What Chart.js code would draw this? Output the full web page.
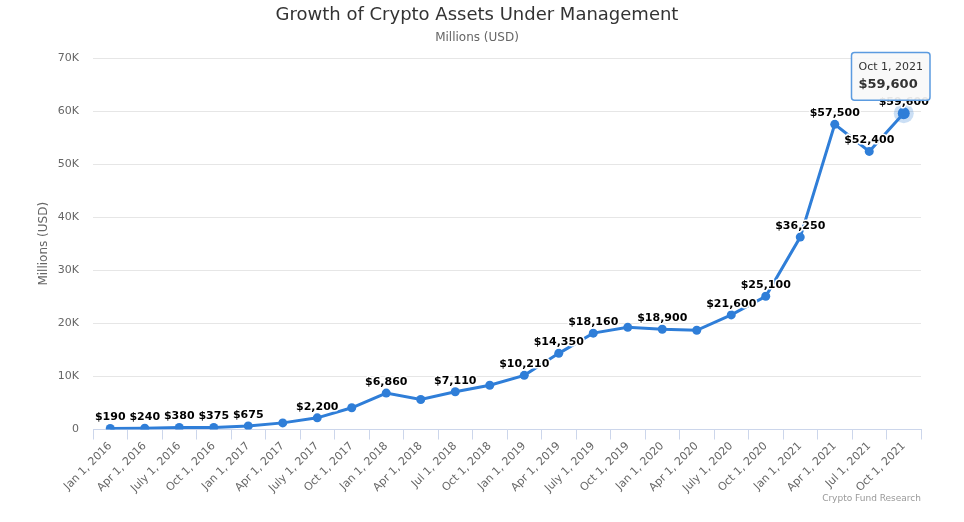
<!DOCTYPE html>
<html>
<head>
<meta charset="utf-8">
<script src="https://cdn.jsdelivr.net/npm/chart.js@4/dist/chart.umd.min.js"></script>
<style>
  html, body { margin: 0; padding: 0; background: #fff; }
  #wrap { width: 964px; height: 522px; }
</style>
</head>
<body>
<div id="wrap"><canvas id="myChart"></canvas></div>
<script>
// data
var quarters = [
  "Jan 1, 2016", "Apr 1, 2016", "July 1, 2016", "Oct 1, 2016",
  "Jan 1, 2017", "Apr 1, 2017", "July 1, 2017", "Oct 1, 2017",
  "Jan 1, 2018", "Apr 1, 2018", "Jul 1, 2018", "Oct 1, 2018",
  "Jan 1, 2019", "Apr 1, 2019", "July 1, 2019", "Oct 1, 2019",
  "Jan 1, 2020", "Apr 1, 2020", "July 1, 2020", "Oct 1, 2020",
  "Jan 1, 2021", "Apr 1, 2021", "Jul 1, 2021", "Oct 1, 2021"
];
var aumValues = [
  190, 240, 380, 375,
  675, 1250, 2200, 4100,
  6860, 5650, 7110, 8350,
  10210, 14350, 18160, 19250,
  18900, 18700, 21600, 25100,
  36250, 57500, 52400, 59600
];
// which points carry a value label in the picture
var showValue = [
  1, 1, 1, 1,
  1, 0, 1, 0,
  1, 0, 1, 0,
  1, 1, 1, 0,
  1, 0, 1, 1,
  1, 1, 1, 1
];
var yTicks = [0, 10000, 20000, 30000, 40000, 50000, 60000, 70000];
var hoverIndex = 23;

var lineColor = "#2f7ed8";
var fontFam = "'DejaVu Sans', 'Liberation Sans', sans-serif";

function money(v) {
  return "$" + Number(v).toLocaleString("en-US");
}

// halo behind the hovered point
const halo = {
  id: "halo",
  beforeDatasetsDraw(chart) {
    const el = chart.getDatasetMeta(0).data[hoverIndex];
    if (!el) return;
    const ctx = chart.ctx;
    ctx.save();
    ctx.beginPath();
    ctx.fillStyle = "rgba(47,126,216,0.25)";
    ctx.arc(el.x, el.y, 10, 0, Math.PI * 2);
    ctx.fill();
    ctx.restore();
  },
};

// value labels above points
const valueLabels = {
  id: "valueLabels",
  afterDatasetsDraw(chart) {
    const ctx = chart.ctx;
    const meta = chart.getDatasetMeta(0);
    ctx.save();
    ctx.font = "bold 11px " + fontFam;
    ctx.textAlign = "center";
    ctx.textBaseline = "middle";
    ctx.lineJoin = "round";
    meta.data.forEach((pt, i) => {
      if (!showValue[i]) return;
      const txt = money(aumValues[i]);
      ctx.strokeStyle = "#fff";
      ctx.lineWidth = 3;
      ctx.strokeText(txt, pt.x, pt.y - 11);
      ctx.fillStyle = "#000";
      ctx.fillText(txt, pt.x, pt.y - 11);
    });
    ctx.restore();
  },
};

// source credit, bottom right
const credit = {
  id: "credit",
  afterDraw(chart) {
    const ctx = chart.ctx;
    ctx.save();
    ctx.font = "9px " + fontFam;
    ctx.fillStyle = "#999";
    ctx.textAlign = "right";
    ctx.textBaseline = "middle";
    ctx.fillText("Crypto Fund Research", chart.chartArea.right, chart.height - 23);
    ctx.restore();
  },
};

Chart.Tooltip.positioners.nearPoint = function (elements) {
  if (!elements.length) return false;
  const el = elements[0].element;
  return { x: el.x - 13, y: el.y - 13 };
};

const data = {
  labels: quarters,
  datasets: [
    {
      label: "Millions (USD)",
      data: aumValues,
      borderColor: lineColor,
      backgroundColor: lineColor,
      borderWidth: 3,
      pointRadius: 4.5,
      pointBorderWidth: 0,
      pointHoverRadius: 6,
      pointHoverBorderWidth: 0,
      pointBackgroundColor: lineColor,
      pointHoverBackgroundColor: lineColor,
      tension: 0,
    },
  ],
};

const config = {
  type: "line",
  data,
  options: {
    responsive: true,
    maintainAspectRatio: false,
    animation: false,
    events: [],
    layout: {
      padding: { left: 33, right: 43, top: 0, bottom: 27 },
    },
    plugins: {
      legend: { display: false },
      title: {
        display: true,
        text: "Growth of Crypto Assets Under Management",
        color: "#333",
        font: { family: fontFam, size: 18, weight: "normal" },
        padding: { top: 5, bottom: 3 },
      },
      subtitle: {
        display: true,
        text: "Millions (USD)",
        color: "#666",
        font: { family: fontFam, size: 12, weight: "normal" },
        padding: { top: 1, bottom: 13 },
      },
      tooltip: {
        enabled: true,
        position: "nearPoint",
        xAlign: "center",
        yAlign: "bottom",
        caretSize: 0,
        caretPadding: 0,
        backgroundColor: "rgba(248,248,248,0.92)",
        borderColor: "#5b9be0",
        borderWidth: 1.5,
        cornerRadius: 3,
        padding: { top: 8, bottom: 8, left: 7, right: 7 },
        displayColors: false,
        titleColor: "#333",
        titleFont: { family: fontFam, size: 11, weight: "normal" },
        titleMarginBottom: 3,
        bodyColor: "#333",
        bodyFont: { family: fontFam, size: 13, weight: "bold" },
        callbacks: {
          title: (items) => quarters[items[0].dataIndex],
          label: (item) => money(item.raw),
        },
      },
    },
    scales: {
      x: {
        type: "category",
        offset: true,
        afterFit: (axis) => {
          // let the first rotated label hang left like the original
          axis.paddingLeft = 0;
        },
        grid: {
          offset: true,
          drawOnChartArea: false,
          drawTicks: true,
          tickLength: 10,
          color: "#ccd6eb",
        },
        border: { display: true, color: "#ccd6eb", width: 1 },
        ticks: {
          color: "#666",
          font: { family: fontFam, size: 11 },
          minRotation: 45,
          maxRotation: 45,
          autoSkip: false,
          padding: 0,
        },
      },
      y: {
        min: 0,
        max: 70000,
        afterBuildTicks: (axis) => {
          axis.ticks = yTicks.map((v) => ({ value: v }));
        },
        afterFit: (axis) => {
          axis.width = 60;
        },
        grid: {
          color: "#e6e6e6",
          drawTicks: false,
        },
        border: { display: false },
        ticks: {
          color: "#666",
          font: { family: fontFam, size: 11 },
          padding: 14,
          callback: (v) => (v === 0 ? "0" : v / 1000 + "K"),
        },
        title: {
          display: true,
          text: "Millions (USD)",
          color: "#666",
          font: { family: fontFam, size: 12, weight: "normal" },
          padding: { top: 4, bottom: 6 },
        },
      },
    },
  },
  plugins: [halo, valueLabels, credit],
};

var chartCanvas = document.getElementById("myChart");
var chartInstance = new Chart(chartCanvas, config);

// show the hovered state on the last point
var active = [{ datasetIndex: 0, index: hoverIndex }];
chartInstance.setActiveElements(active);
chartInstance.tooltip.setActiveElements(active, { x: 0, y: 0 });
chartInstance.update();
</script>
</body>
</html>
